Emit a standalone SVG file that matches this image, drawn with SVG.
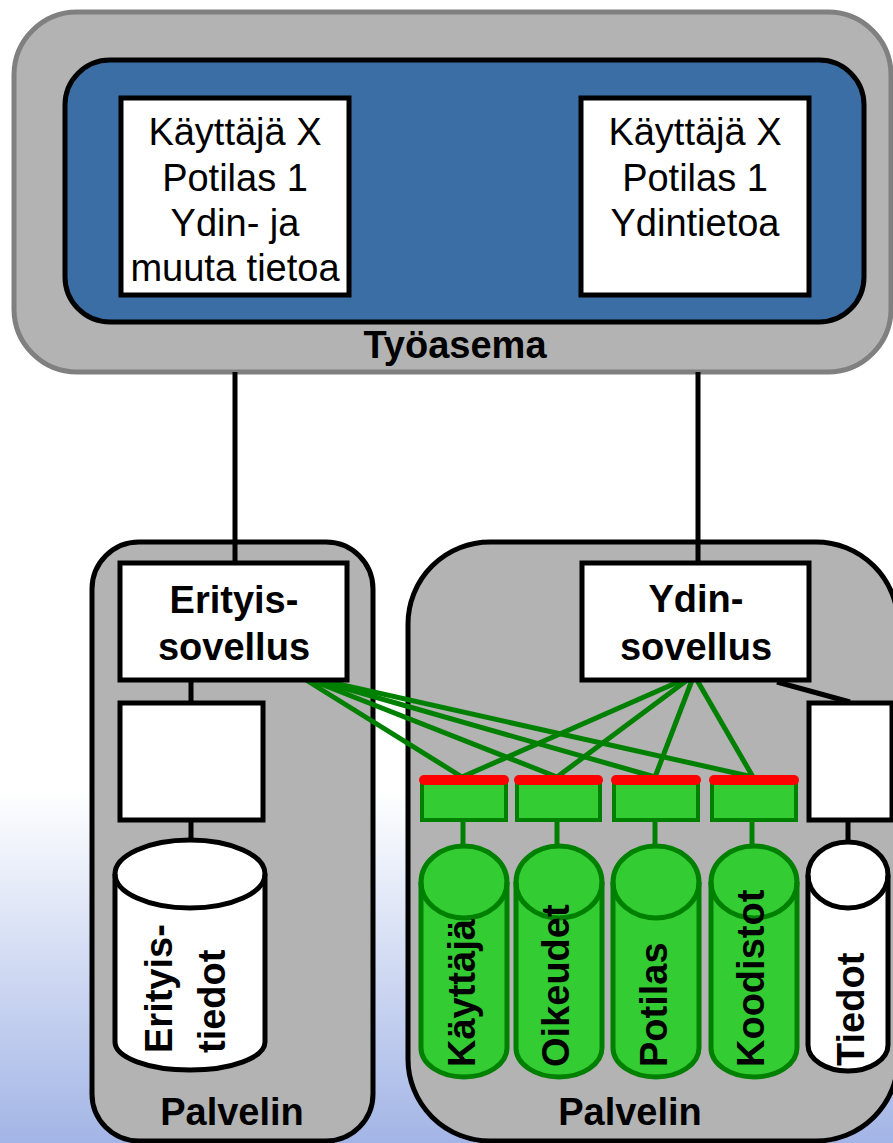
<svg xmlns="http://www.w3.org/2000/svg" width="893" height="1143" viewBox="0 0 893 1143">
<defs>
<linearGradient id="bg" x1="0" y1="0" x2="0" y2="1">
<stop offset="0" stop-color="#ffffff"/>
<stop offset="0.3" stop-color="#e3e9f8"/>
<stop offset="1" stop-color="#a3b5e6"/>
</linearGradient>
<style>
.t{font-family:"Liberation Sans",Arial,sans-serif;font-size:38px;fill:#000}
.b{font-weight:bold}
.m{text-anchor:middle}
.srv{fill:#b3b3b3;stroke:#000;stroke-width:5}
.wb{fill:#fff;stroke:#000;stroke-width:5}
.gt{fill:#33cc33;stroke:#008000;stroke-width:4}
.red{stroke:#ff0000;stroke-width:10;stroke-linecap:round}
.gl{stroke:#008000;stroke-width:5;fill:none}
.bl{stroke:#000;stroke-width:5;fill:none}
.gc{fill:#33cc33;stroke:#008000;stroke-width:5}
.wc{fill:#fff;stroke:#000;stroke-width:5}
</style>
</defs>
<rect x="0" y="0" width="893" height="1143" fill="#fff"/>
<rect x="0" y="790" width="893" height="353" fill="url(#bg)"/>

<g id="tyoasema">
<rect x="14" y="12" width="877" height="360" rx="63" fill="#b3b3b3" stroke="#808080" stroke-width="5"/>
<rect x="65" y="60" width="799" height="262" rx="45" fill="#3b6ea5" stroke="#000" stroke-width="5"/>
<text class="t b m" x="455" y="358">Työasema</text>
</g>
<g id="view1">
<rect x="121" y="98" width="228" height="197" class="wb"/>
<text class="t m" x="235" y="145">Käyttäjä X</text>
<text class="t m" x="235" y="191">Potilas 1</text>
<text class="t m" x="235" y="236">Ydin- ja</text>
<text class="t m" x="235" y="281">muuta tietoa</text>
</g>
<g id="view2">
<rect x="581" y="98" width="228" height="197" class="wb"/>
<text class="t m" x="695" y="145">Käyttäjä X</text>
<text class="t m" x="695" y="191">Potilas 1</text>
<text class="t m" x="695" y="236">Ydintietoa</text>
</g>

<g id="palvelin1">
<rect x="92" y="542" width="281" height="599" rx="47" class="srv"/>
<text class="t b m" x="232" y="1125">Palvelin</text>
</g>
<g id="palvelin2">
<rect x="408" y="542" width="490" height="599" rx="82" class="srv"/>
<text class="t b m" x="630" y="1125">Palvelin</text>
</g>

<g id="connectors">
<line class="bl" x1="235" y1="372" x2="235" y2="565"/>
<line class="bl" x1="698" y1="372" x2="698" y2="565"/>
<line class="bl" x1="191" y1="680" x2="191" y2="845"/>
<line class="bl" x1="777" y1="682" x2="850" y2="702"/>
<line class="bl" x1="848" y1="820" x2="848" y2="845"/>
<line class="gl" x1="463" y1="820" x2="463" y2="848"/>
<line class="gl" x1="557" y1="820" x2="557" y2="848"/>
<line class="gl" x1="655" y1="820" x2="655" y2="848"/>
<line class="gl" x1="752" y1="820" x2="752" y2="848"/>
<line class="gl" x1="298" y1="675" x2="462" y2="777"/>
<line class="gl" x1="298" y1="675" x2="557" y2="777"/>
<line class="gl" x1="298" y1="675" x2="655" y2="777"/>
<line class="gl" x1="298" y1="675" x2="753" y2="777"/>
<line class="gl" x1="694" y1="675" x2="462" y2="777"/>
<line class="gl" x1="694" y1="675" x2="557" y2="777"/>
<line class="gl" x1="694" y1="675" x2="655" y2="777"/>
<line class="gl" x1="694" y1="675" x2="753" y2="777"/>
</g>

<g id="erityissovellus">
<rect x="120" y="563" width="227" height="117" class="wb"/>
<text class="t b m" x="234" y="613">Erityis-</text>
<text class="t b m" x="234" y="660">sovellus</text>
</g>
<g id="erityis-kerros">
<rect x="120" y="703" width="143" height="117" class="wb"/>
</g>
<g id="erityistiedot">
<path class="wc" d="M115,874 A75,34 0 0 1 265,874 L265,1042 A75,28 0 0 1 115,1042 Z"/>
<path class="bl" d="M115,874 A75,34 0 0 0 265,874"/>
<text class="t b" transform="translate(172,1053) rotate(-90)">Erityis-</text>
<text class="t b" transform="translate(225,1053) rotate(-90)">tiedot</text>
</g>

<g id="ydinsovellus">
<rect x="582" y="563" width="227" height="117" class="wb"/>
<text class="t b m" x="696" y="612">Ydin-</text>
<text class="t b m" x="696" y="660">sovellus</text>
</g>
<g id="tiedot-kerros">
<rect x="809" y="703" width="83" height="117" class="wb"/>
</g>

<g id="rajapinta1">
<rect x="422" y="783" width="84" height="37" class="gt"/>
<line class="red" x1="424" y1="780" x2="504" y2="780"/>
</g>
<g id="rajapinta2">
<rect x="517" y="783" width="83" height="37" class="gt"/>
<line class="red" x1="519" y1="780" x2="598" y2="780"/>
</g>
<g id="rajapinta3">
<rect x="614" y="783" width="84" height="37" class="gt"/>
<line class="red" x1="616" y1="780" x2="696" y2="780"/>
</g>
<g id="rajapinta4">
<rect x="712" y="783" width="84" height="37" class="gt"/>
<line class="red" x1="714" y1="780" x2="794" y2="780"/>
</g>

<g id="kayttaja">
<path class="gc" d="M421,882 A43,36 0 0 1 507,882 L507,1048 A43,29 0 0 1 421,1048 Z"/>
<path class="gl" d="M421,882 A43,36 0 0 0 507,882"/>
<text class="t b" transform="translate(475,1067) rotate(-90)">Käyttäjä</text>
</g>
<g id="oikeudet">
<path class="gc" d="M516,882 A43,36 0 0 1 602,882 L602,1048 A43,29 0 0 1 516,1048 Z"/>
<path class="gl" d="M516,882 A43,36 0 0 0 602,882"/>
<text class="t b" transform="translate(569,1067) rotate(-90)">Oikeudet</text>
</g>
<g id="potilas">
<path class="gc" d="M613,882 A43,36 0 0 1 699,882 L699,1048 A43,29 0 0 1 613,1048 Z"/>
<path class="gl" d="M613,882 A43,36 0 0 0 699,882"/>
<text class="t b" transform="translate(667,1067) rotate(-90)">Potilas</text>
</g>
<g id="koodistot">
<path class="gc" d="M711,882 A43,36 0 0 1 797,882 L797,1048 A43,29 0 0 1 711,1048 Z"/>
<path class="gl" d="M711,882 A43,36 0 0 0 797,882"/>
<text class="t b" transform="translate(764,1067) rotate(-90)">Koodistot</text>
</g>
<g id="tiedot">
<path class="wc" d="M808,875 A40,33 0 0 1 888,875 L888,1045 A40,26 0 0 1 808,1045 Z"/>
<path class="bl" d="M808,875 A40,33 0 0 0 888,875"/>
<text class="t b" transform="translate(864,1066) rotate(-90)">Tiedot</text>
</g>
</svg>
